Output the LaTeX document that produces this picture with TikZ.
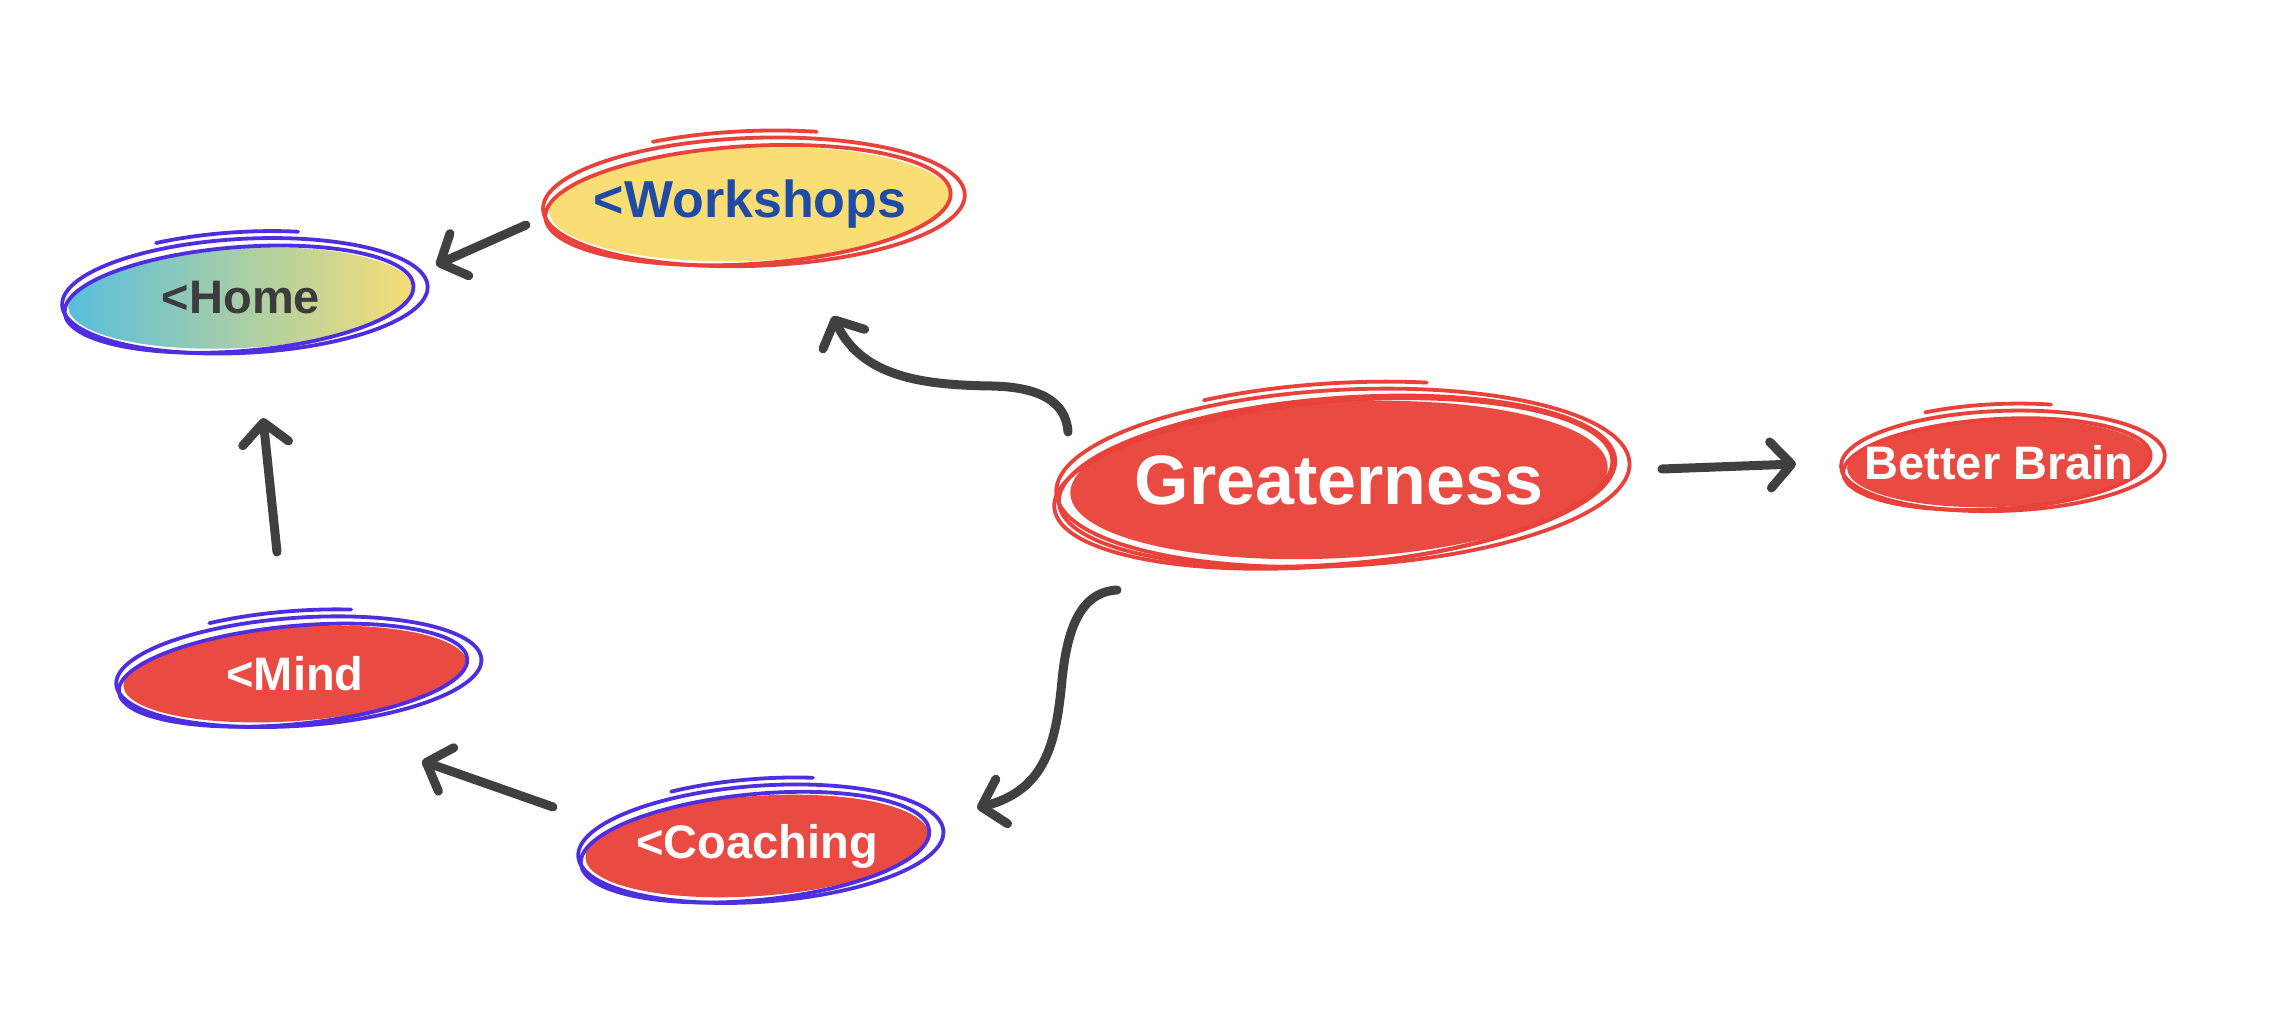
\documentclass[tikz,border=0pt]{standalone}
\usepackage{fontspec}
\setmainfont{Liberation Sans}
\usetikzlibrary{shapes.geometric,arrows.meta,backgrounds}
\definecolor{redfill}{RGB}{233,74,66}
\definecolor{redline}{RGB}{232,66,58}
\definecolor{violet}{RGB}{79,46,224}
\definecolor{yellowfill}{RGB}{249,221,117}
\definecolor{homeblue}{RGB}{88,190,220}
\definecolor{homeyellow}{RGB}{247,222,116}
\definecolor{wsblue}{RGB}{29,75,166}
\definecolor{txtgray}{RGB}{60,60,60}
\definecolor{arrgray}{RGB}{64,64,64}
\tikzset{
  bubble/.style={ellipse, inner sep=0pt, align=center, font=\bfseries\fontsize{47}{50}\selectfont, text=white},
  ringline/.style={line width=3.8pt, line cap=round},
  arr/.style={draw=arrgray, line width=9pt, line cap=round, line join=round,
    -{Straight Barb[length=21pt,width=46pt,line cap=round,line join=round]}},
}
\newcommand\sketchring[5]{%
  \pgfmathsetmacro\rxa{#3}\pgfmathsetmacro\rya{#4}%
  \pgfmathsetmacro\rxb{#3-8}\pgfmathsetmacro\ryb{#4-5}%
  \draw[ringline,#2,rotate around={#5:(#1.center)}] ([shift={(4,2)}]#1.center) ellipse [x radius=\rxa, y radius=\rya];
  \draw[ringline,#2,rotate around={#5+1.5:(#1.center)}] ([shift={(-2,-1)}]#1.center) ellipse [x radius=\rxb, y radius=\ryb];
  \draw[ringline,#2,rotate around={#5:(#1.center)}] ([shift={(4,9)}]#1.center) +(118:\rxa pt and \rya pt) arc[start angle=118, end angle=72, x radius=\rxa, y radius=\rya];
}
\begin{document}
\begin{tikzpicture}[x=1pt,y=1pt]
\useasboundingbox (0,0) rectangle (2276,-1024);
% nodes (text)
\node[bubble, minimum width=346, minimum height=101, text=txtgray] (home) at (241,-298) {<Home};
\node[bubble, minimum width=402, minimum height=114, text=wsblue, font=\bfseries\fontsize{52}{55}\selectfont] (workshops) at (750,-204) {<Workshops};
\node[bubble, minimum width=538, minimum height=157, font=\bfseries\fontsize{70}{74}\selectfont] (greaterness) at (1339,-480) {Greaterness};
\node[bubble, minimum width=305, minimum height=88] (brain) at (1999,-463) {Better Brain};
\node[bubble, minimum width=345, minimum height=94] (mind) at (295,-674) {<Mind};
\node[bubble, minimum width=344, minimum height=101] (coaching) at (757,-846) {<Coaching};
\begin{pgfonlayer}{background}
  % fills
  \shade[left color=homeblue, right color=homeyellow, rotate around={3:(home.center)}] (home.center) ellipse [x radius=173, y radius=50];
  \fill[yellowfill, rotate around={2:(workshops.center)}] (workshops.center) ellipse [x radius=201, y radius=57];
  \fill[redfill, rotate around={3:(greaterness.center)}] (greaterness.center) ellipse [x radius=269, y radius=78];
  \fill[redfill, rotate around={2:(brain.center)}] (brain.center) ellipse [x radius=152, y radius=44];
  \fill[redfill, rotate around={4:(mind.center)}] (mind.center) ellipse [x radius=172, y radius=47];
  \fill[redfill, rotate around={4:(coaching.center)}] (coaching.center) ellipse [x radius=172, y radius=50];
  % sketchy outlines
  \sketchring{home}{violet}{183}{57}{3}
  \sketchring{workshops}{redline}{211}{64}{2}
  \sketchring{greaterness}{redline}{287}{88}{3}
  \draw[ringline,redline,rotate around={5:(greaterness.center)}] ([shift={(-6,-3)}]greaterness.center) ellipse [x radius=280, y radius=82];
  \sketchring{brain}{redline}{162}{50}{2}
  \sketchring{mind}{violet}{183}{54}{4}
  \sketchring{coaching}{violet}{183}{58}{4}
\end{pgfonlayer}
% connectors
\draw[arr] ([shift={(-224,-21)}]workshops.center) -- ([shift={(195,33)}]home.center);
\draw[arr] ([shift={(-271,48)}]greaterness.center) .. controls +(-2,32) and +(45,-1) .. (992,-386)
   .. controls (925,-385) and (862,-378) .. ([shift={(83,-112)}]workshops.center);
\draw[arr] ([shift={(323,11)}]greaterness.center) -- ([shift={(-203,-1)}]brain.center);
\draw[arr] ([shift={(-222,-110)}]greaterness.center) .. controls +(-37,-2) and +(5,50) .. (1062,-680)
   .. controls (1056,-745) and (1045,-790) .. ([shift={(220,38)}]coaching.center);
\draw[arr] ([shift={(-204,39)}]coaching.center) -- ([shift={(127,-87)}]mind.center);
\draw[arr] ([shift={(-18,122)}]mind.center) -- ([shift={(22,-120)}]home.center);
\end{tikzpicture}
\end{document}
